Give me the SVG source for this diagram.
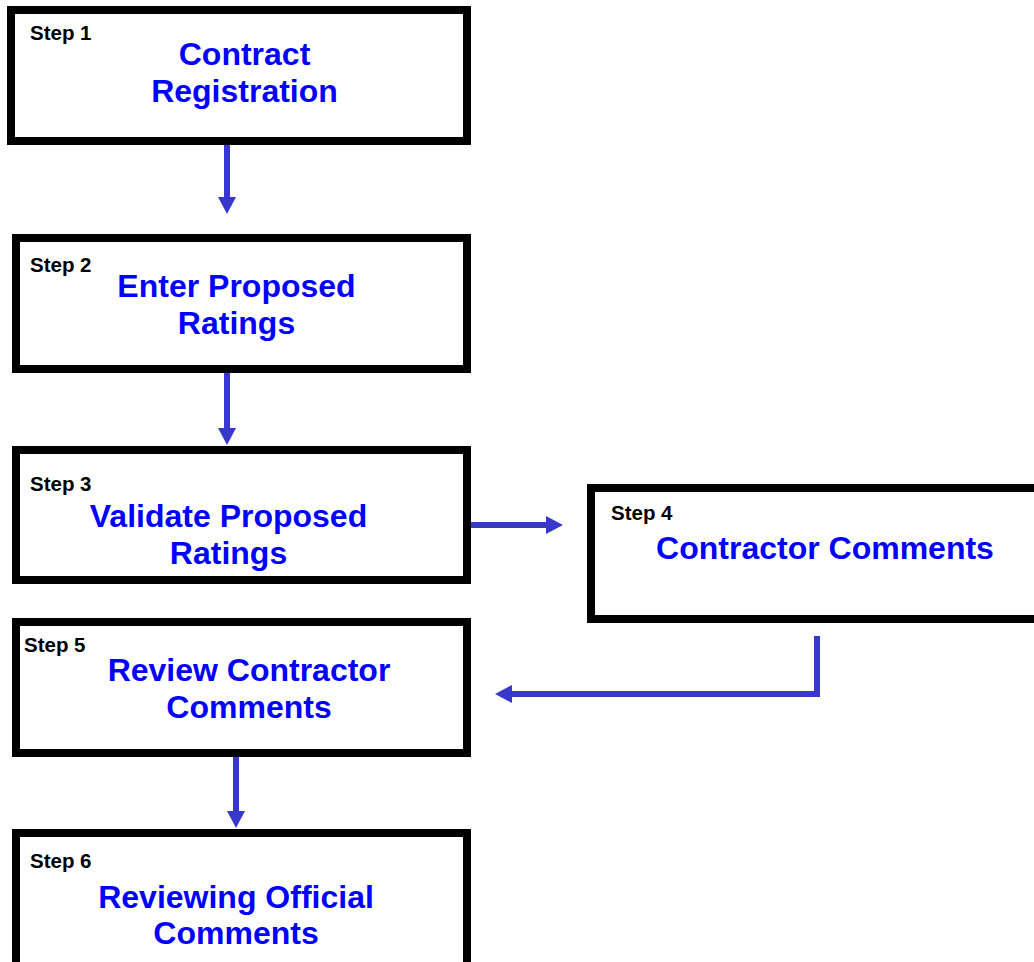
<svg xmlns="http://www.w3.org/2000/svg" width="1034" height="962" viewBox="0 0 1034 962">
<style>
.box{fill:#fff;stroke:#000;stroke-width:8}
.step{font-family:"Liberation Sans",Arial,sans-serif;font-weight:bold;font-size:20.5px;fill:#000}
.title{font-family:"Liberation Sans",Arial,sans-serif;font-weight:bold;font-size:32px;fill:#0000FF;text-anchor:middle}
.conn{fill:none;stroke:#3838CC;stroke-width:6;marker-end:url(#ah)}
</style>
<defs>
<marker id="ah" markerUnits="userSpaceOnUse" markerWidth="17" markerHeight="18" refX="0" refY="9" orient="auto">
<path d="M0,0 L17,9 L0,18 z" fill="#3838CC"/>
</marker>
</defs>
<rect width="1034" height="962" fill="#fff"/>
<g id="step1">
<rect class="box" x="11" y="10" width="456" height="131"/>
<text class="step" x="30" y="40">Step 1</text>
<text class="title" x="244.5" y="65">Contract</text>
<text class="title" x="244.5" y="101.5">Registration</text>
</g>
<g id="step2">
<rect class="box" x="16" y="238" width="451" height="131"/>
<text class="step" x="30" y="272">Step 2</text>
<text class="title" x="236.5" y="297">Enter Proposed</text>
<text class="title" x="236.5" y="334">Ratings</text>
</g>
<g id="step3">
<rect class="box" x="16" y="450" width="451" height="130"/>
<text class="step" x="30" y="491">Step 3</text>
<text class="title" x="228.5" y="527">Validate Proposed</text>
<text class="title" x="228.5" y="564">Ratings</text>
</g>
<g id="step4">
<rect class="box" x="591" y="488" width="460" height="131"/>
<text class="step" x="611" y="520">Step 4</text>
<text class="title" x="825" y="559">Contractor Comments</text>
</g>
<g id="step5">
<rect class="box" x="16" y="622" width="451" height="131"/>
<text class="step" x="24" y="652">Step 5</text>
<text class="title" x="249" y="681">Review Contractor</text>
<text class="title" x="249" y="718">Comments</text>
</g>
<g id="step6">
<rect class="box" x="16" y="833" width="451" height="135"/>
<text class="step" x="30" y="868">Step 6</text>
<text class="title" x="236" y="908">Reviewing Official</text>
<text class="title" x="236" y="944">Comments</text>
</g>
<g id="connectors">
<path class="conn" d="M227,145 V197"/>
<path class="conn" d="M227,373 V428"/>
<path class="conn" d="M471,525 H546"/>
<path class="conn" d="M817,636 V694 H512"/>
<path class="conn" d="M236,757 V811"/>
</g>
</svg>
